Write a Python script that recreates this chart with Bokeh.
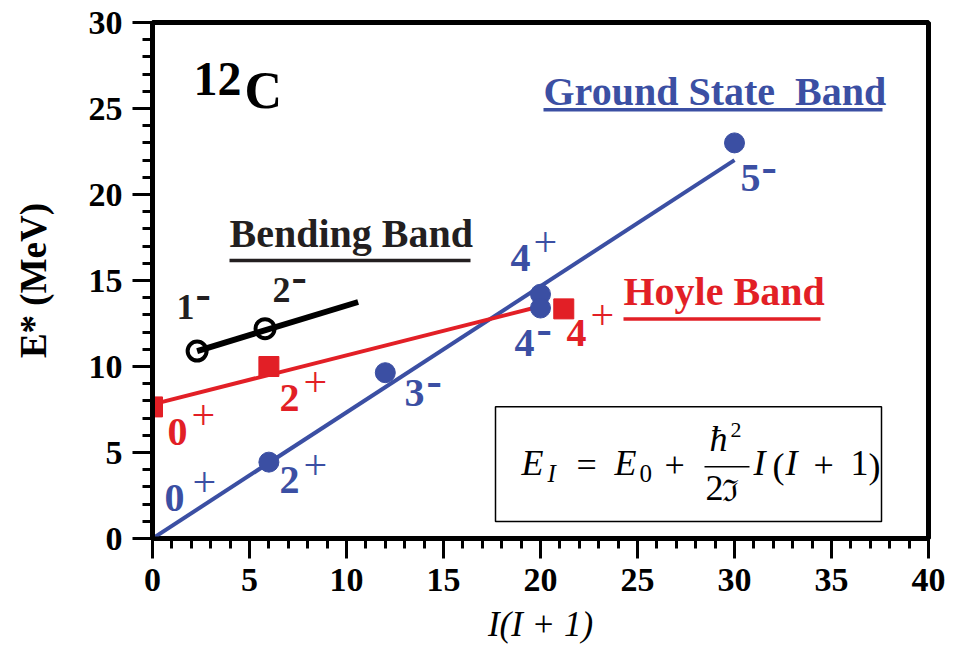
from bokeh.plotting import figure
from bokeh.models import Range1d, SingleIntervalTicker, Label, BoxAnnotation
from bokeh.embed import file_html
from bokeh.resources import INLINE

# ---------------- data ----------------
gs_x = [6, 12, 20, 20, 30]                 # ground state band, I(I+1)
gs_y = [4.44, 9.64, 14.2, 13.4, 23.0]      # E* (MeV)
gs_fit_x = [0, 30]
gs_fit_y = [0.0, 22.0]

hoyle_x = [0, 6, 21.2]
hoyle_y = [7.65, 10.0, 13.35]
hoyle_fit_x = [0, 20]
hoyle_fit_y = [7.8, 13.5]

bend_x = [2.3, 5.8]
bend_y = [10.9, 12.2]
bend_fit_x = [2.3, 10.6]
bend_fit_y = [10.9, 13.75]

x_ticks_interval = 5
y_ticks_interval = 5

# ---------------- styling ----------------
BLUE = "#3B4FA3"
RED = "#E21F26"
BLACK = "#231F20"
SERIF = "Liberation Serif"

W, H = 946, 646
p = figure(width=W, height=H, output_backend="svg", toolbar_location=None,
           x_range=Range1d(0, 40), y_range=Range1d(0, 30),
           min_border_left=152, min_border_right=18,
           min_border_top=22, min_border_bottom=107)
p.background_fill_color = "white"
p.border_fill_color = "white"
p.grid.visible = False
p.outline_line_color = "black"
p.outline_line_width = 5

p.xaxis.ticker = SingleIntervalTicker(interval=x_ticks_interval, num_minor_ticks=5)
p.yaxis.ticker = SingleIntervalTicker(interval=y_ticks_interval, num_minor_ticks=5)
for ax in (p.xaxis, p.yaxis):
    ax.axis_line_color = "black"
    ax.major_tick_line_color = "black"
    ax.minor_tick_line_color = "black"
    ax.major_tick_line_width = 3
    ax.minor_tick_line_width = 3
    ax.major_tick_out = 20
    ax.major_tick_in = 0
    ax.minor_tick_out = 10
    ax.minor_tick_in = 0
    ax.major_label_text_font = SERIF
    ax.major_label_text_font_style = "bold"
    ax.major_label_text_font_size = "34px"
    ax.major_label_text_color = "black"
    ax.major_label_standoff = 10
p.yaxis.axis_line_width = 5
p.xaxis.axis_line_width = 4

p.yaxis.axis_label = "E* (MeV)"
p.yaxis.axis_label_text_font = SERIF
p.yaxis.axis_label_text_font_style = "bold"
p.yaxis.axis_label_text_font_size = "37px"
p.yaxis.axis_label_text_color = "black"
p.yaxis.axis_label_standoff = 32

p.xaxis.axis_label = "I(I + 1)"
p.xaxis.axis_label_text_font = SERIF
p.xaxis.axis_label_text_font_style = "italic"
p.xaxis.axis_label_text_font_size = "35px"
p.xaxis.axis_label_text_color = "black"
p.xaxis.axis_label_standoff = 11

# reference pixel -> data helpers (frame: x 152..928, y 539..22)
X0, X1, Y0, Y1 = 152.0, 928.0, 539.0, 22.0
def DX(px):
    return (px - X0) / (X1 - X0) * 40.0
def DY(py):
    return (Y0 - py) / (Y0 - Y1) * 30.0

BASE_FIX = 0.37   # renderer places "alphabetic" text lower by ~0.37em

def lab(text, px, py, size, color, style="bold", font=SERIF, align="left"):
    p.add_layout(Label(x=DX(px), y=DY(py - BASE_FIX * size), text=text, text_font=font,
                       text_font_size=f"{size}px", text_font_style=style,
                       text_color=color, text_align=align,
                       text_baseline="alphabetic"))

def underline(px0, px1, py, color, w=3.5):
    p.segment(x0=[DX(px0)], y0=[DY(py)], x1=[DX(px1)], y1=[DY(py)],
              line_color=color, line_width=w)

# ---------------- bands ----------------
p.line(gs_fit_x, gs_fit_y, line_color=BLUE, line_width=4)
p.line(hoyle_fit_x, hoyle_fit_y, line_color=RED, line_width=4)
p.scatter(gs_x, gs_y, marker="circle", size=20, fill_color=BLUE, line_color=BLUE)
p.scatter(hoyle_x, hoyle_y, marker="square", size=20, fill_color=RED, line_color=RED)
p.scatter(bend_x, bend_y, marker="circle", size=19, fill_color="white",
          line_color="black", line_width=4)
p.line(bend_fit_x, bend_fit_y, line_color="black", line_width=6)

# ---------------- spin labels ----------------
def spin(num, sup, px, py, size, color, spx, spy):
    lab(num, px, py, size, color)
    if sup == "+":
        ssize = 42
        lab("+", spx, spy + 0.25 * ssize, ssize, color, style="normal")
    else:
        ssize = 46
        lab("-", spx - 1, spy + 0.24 * ssize, ssize, color, style="bold")

# bending band (black)
spin("1", "-", 176, 320, 36, BLACK, 196, 300)
spin("2", "-", 272, 303, 36, BLACK, 292, 282)
# Hoyle band (red)
spin("0", "+", 167, 447, 40, RED, 191, 420)
spin("2", "+", 279, 413, 40, RED, 303, 387)
spin("4", "+", 566, 348, 40, RED, 590, 320)
# ground state band (blue)
spin("0", "+", 164, 513, 40, BLUE, 192, 487)
spin("2", "+", 279, 495, 40, BLUE, 303, 470)
spin("3", "-", 404, 408, 40, BLUE, 427, 387)
spin("4", "+", 510, 273, 40, BLUE, 533, 247)
spin("4", "-", 514, 358, 40, BLUE, 537, 335)
spin("5", "-", 740, 193, 40, BLUE, 762, 172)

# ---------------- band titles ----------------
lab("Ground State\u00a0 Band", 543, 106, 40, BLUE)
underline(543, 882, 109.5, BLUE)
lab("Hoyle Band", 623, 306, 40, RED)
underline(623, 820, 319, RED)
lab("Bending Band", 229, 248, 40, BLACK)
underline(229, 470, 260.5, BLACK)

# nucleus label
lab("12", 193, 96, 48, "black")
lab("C", 244, 109, 52, "black")

# ---------------- formula box ----------------
p.add_layout(BoxAnnotation(left=DX(495), right=DX(881), top=DY(407), bottom=DY(522),
                           fill_alpha=0.0, line_alpha=1.0,
                           line_color="black", line_width=1.5))
FS = 36
lab("E", 521, 477, FS, "black", style="italic")
lab("I", 547, 483, 25, "black", style="italic")
lab("=", 576, 479, FS, "black", style="normal")
lab("E", 614, 477, FS, "black", style="italic")
lab("0", 639, 483, 25, "black", style="normal")
lab("+", 664, 479, FS, "black", style="normal")
lab("\u0127", 709, 453, FS, "black", style="italic")
lab("2", 730, 438, 22, "black", style="normal")
p.segment(x0=[DX(704)], y0=[DY(467)], x1=[DX(749)], y1=[DY(467)],
          line_color="black", line_width=1.5)
lab("2", 705, 502, FS, "black", style="normal")
lab("\u2111", 721, 502, 30, "black", style="normal", font="DejaVu Serif")
lab("I", 753, 477, FS, "black", style="italic")
lab("(", 772, 480, FS, "black", style="normal")
lab("I", 785, 477, FS, "black", style="italic")
lab("+", 813, 479, FS, "black", style="normal")
lab("1", 850, 477, FS, "black", style="normal")
lab(")", 868, 480, FS, "black", style="normal")

open("out.html", "w").write(file_html(p, INLINE))
